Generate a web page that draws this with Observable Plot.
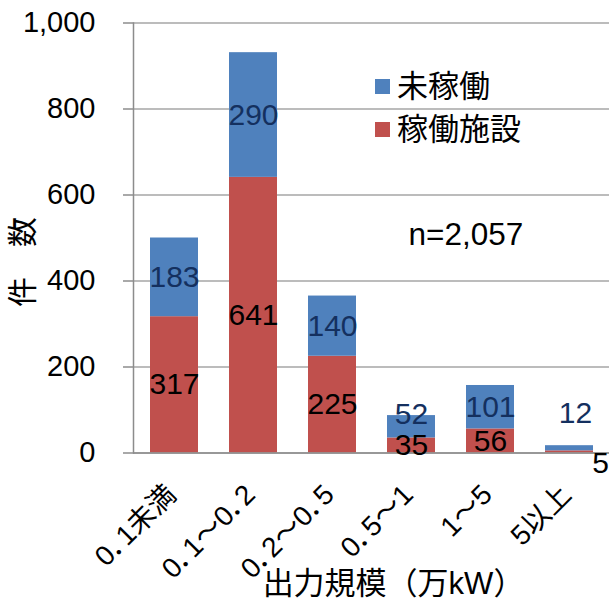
<!DOCTYPE html>
<html>
<head>
<meta charset="utf-8">
<script src="https://cdn.jsdelivr.net/npm/d3@7"></script>
<script src="https://cdn.jsdelivr.net/npm/@observablehq/plot@0.6"></script>
<style>
  html, body { margin: 0; padding: 0; background: #fff; }
  body { font-family: "Liberation Sans", Arial, "Noto Sans CJK JP", sans-serif; }
  #wrap { position: relative; width: 611px; height: 601px; overflow: hidden; }
  .leg { position: absolute; font-size: 31px; line-height: 1; color: #000; white-space: nowrap; }
  .sw { position: absolute; width: 15px; height: 15px; }
  g[aria-label="x-axis tick label"] text { font-feature-settings: "palt"; }
</style>
</head>
<body>
<div id="wrap"></div>
<script>
// ---- data ----
const categories = ["0．1未満", "0．1～0．2", "0．2～0．5", "0．5～1", "1～5", "5以上"];
const operating = [317, 641, 225, 35, 56, 5];        // 稼働施設
const notOperating = [183, 290, 140, 52, 101, 12];   // 未稼働
const seriesNames = ["稼働施設", "未稼働"];
const seriesColors = ["#c0504d", "#4f81bd"];
const yTicks = [0, 200, 400, 600, 800, 1000];
const totalLabel = "n=2,057";
const xTitle = "出力規模（万kW）";
const yTitle = "件　数";

// ---- table ----
const rows = [];
categories.forEach((c, i) => {
  rows.push({category: c, series: seriesNames[0], value: operating[i], mid: operating[i] / 2});
  rows.push({category: c, series: seriesNames[1], value: notOperating[i], mid: operating[i] + notOperating[i] / 2});
});

// label nudges (Excel moved a few labels to avoid overlap)
const labelNudge = {
  "0．5～1|未稼働": [0, -12],
  "5以上|未稼働": [6, -35],
  "5以上|稼働施設": [31, 11]
};
const key = d => d.category + "|" + d.series;

const font = '"Liberation Sans", Arial, "Noto Sans CJK JP", sans-serif';
const labelColor = {"未稼働": "#14305f", "稼働施設": "#000000"};

const labelMarks = [];
for (const s of seriesNames) {
  labelMarks.push(Plot.text(rows.filter(d => d.series === s && !labelNudge[key(d)]), {
    x: "category", y: "mid", text: d => String(d.value), fill: labelColor[s], fontSize: 30
  }));
}
for (const k of Object.keys(labelNudge)) {
  const [dx, dy] = labelNudge[k];
  const sub = rows.filter(d => key(d) === k);
  labelMarks.push(Plot.text(sub, {
    x: "category", y: "mid", text: d => String(d.value), fill: labelColor[sub[0].series], fontSize: 30, dx, dy
  }));
}

const chart = Plot.plot({
  width: 611,
  height: 601,
  marginLeft: 133,
  marginRight: 2,
  marginTop: 22.5,
  marginBottom: 148.5,
  style: {fontFamily: font, background: "#fff", overflow: "visible"},
  x: {domain: categories, paddingInner: 0.395, paddingOuter: 0.1975, label: null},
  y: {domain: [0, 1000], label: null},
  color: {domain: seriesNames, range: seriesColors},
  marks: [
    Plot.gridY(yTicks, {stroke: "#a6a6a6", strokeOpacity: 1, strokeWidth: 1.5}),
    Plot.barY(rows, Plot.stackY({x: "category", y: "value", fill: "series", order: seriesNames})),
    Plot.ruleY([0], {stroke: "#8c8c8c", strokeWidth: 1.5}),
    Plot.frame({anchor: "left", stroke: "#8c8c8c", strokeWidth: 1.5}),
    Plot.axisY({ticks: yTicks, tickFormat: d3.format(","), tickSize: 10, tickPadding: 28, fontSize: 29, stroke: "#8c8c8c", strokeWidth: 1.5, color: "#000", label: null}),
    Plot.axisX({tickSize: 0, tickRotate: -45, tickPadding: 37, dx: -3, fontSize: 28, color: "#000", label: null}),
    ...labelMarks,
    Plot.text([yTitle], {frameAnchor: "left", textAnchor: "middle", lineAnchor: "middle", rotate: -90, dx: -110, dy: 24, fontSize: 30, fill: "#000"}),
    Plot.text([xTitle], {frameAnchor: "bottom", textAnchor: "middle", lineAnchor: "middle", dx: 22, dy: 131, fontSize: 31, fill: "#000"}),
    Plot.text([totalLabel], {frameAnchor: "top-left", textAnchor: "start", dx: 275, dy: 200, fontSize: 31.5, fill: "#000"})
  ]
});

const wrap = document.getElementById("wrap");
wrap.appendChild(chart);

// legend (reverse order like the reference: 未稼働 on top)
const legendItems = [
  {name: seriesNames[1], color: seriesColors[1], top: 79},
  {name: seriesNames[0], color: seriesColors[0], top: 122}
];
for (const it of legendItems) {
  const sw = document.createElement("div");
  sw.className = "sw";
  sw.style.left = "375px";
  sw.style.top = it.top + "px";
  sw.style.background = it.color;
  wrap.appendChild(sw);
  const t = document.createElement("div");
  t.className = "leg";
  t.style.left = "397px";
  t.style.top = (it.top - 8) + "px";
  t.textContent = it.name;
  wrap.appendChild(t);
}
</script>
</body>
</html>
